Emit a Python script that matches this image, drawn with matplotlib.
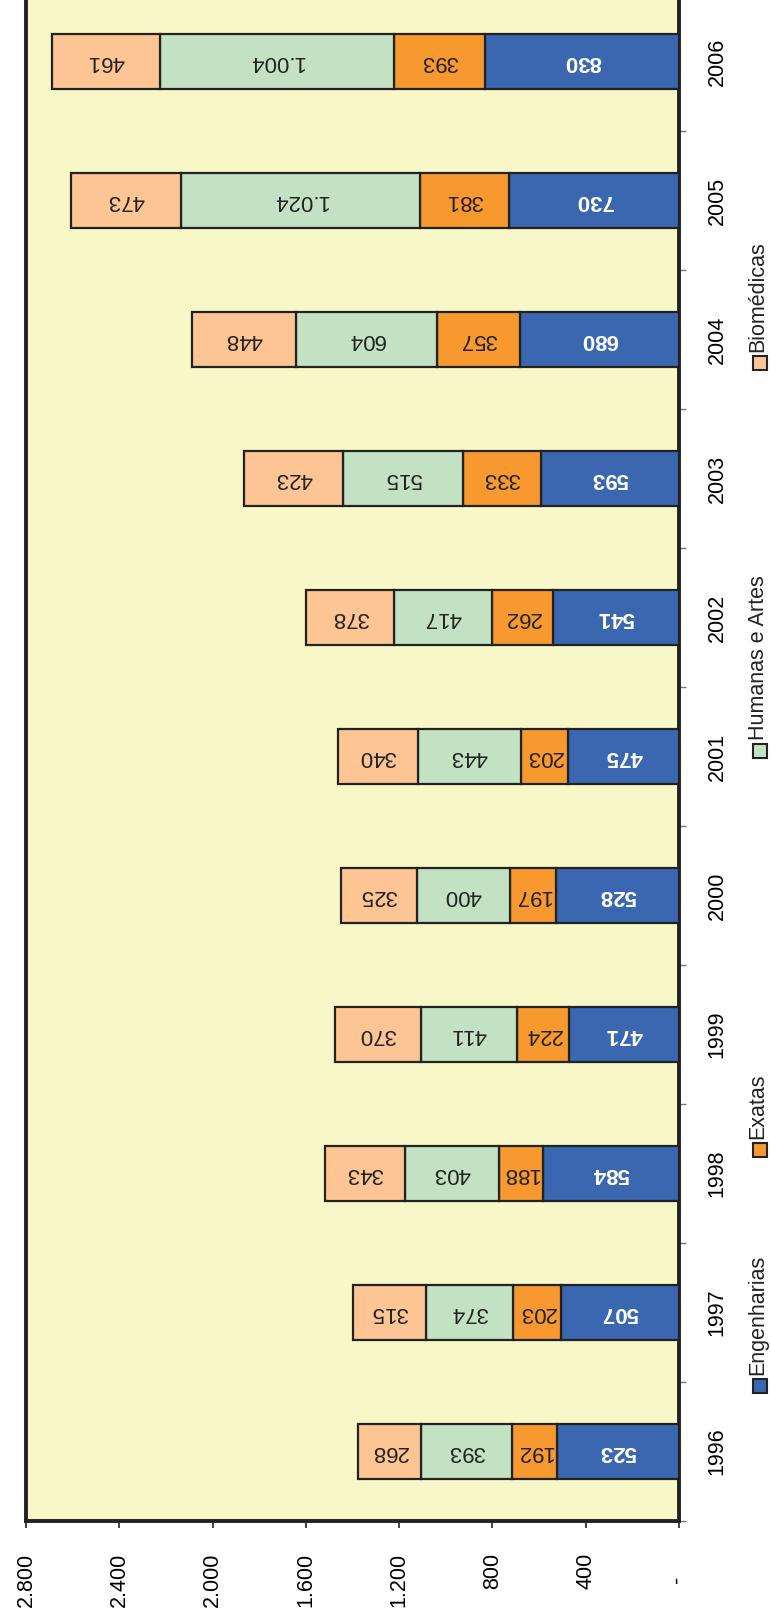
import matplotlib.pyplot as plt
from matplotlib.patches import Rectangle
import numpy as np

plt.rcParams['font.family'] = ['Liberation Sans', 'DejaVu Sans']

# Dados
anos = ['1996', '1997', '1998', '1999', '2000', '2001', '2002', '2003', '2004', '2005', '2006']
engenharias = [523, 507, 584, 471, 528, 475, 541, 593, 680, 730, 830]
exatas = [192, 203, 188, 224, 197, 203, 262, 333, 357, 381, 393]
humanas = [393, 374, 403, 411, 400, 443, 417, 515, 604, 1024, 1004]
biomedicas = [268, 315, 343, 370, 325, 340, 378, 423, 448, 473, 461]

series = ['Engenharias', 'Exatas', 'Humanas e Artes', 'Biomédicas']
cores = ['#3A67B0', '#F7992E', '#C3E2C3', '#FDC594']
cores_texto = ['white', '#222222', '#222222', '#222222']
pesos = ['bold', 'normal', 'normal', 'normal']
valores = [engenharias, exatas, humanas, biomedicas]

ticks_valor = [0, 400, 800, 1200, 1600, 2000, 2400, 2800]


def fmt(v):
    return f"{v:,}".replace(",", ".")


W, H = 770, 1613
fig = plt.figure(figsize=(W / 100, H / 100), dpi=100)
ax = fig.add_axes([26 / W, (H - 1521) / H, 653 / W, 1529 / H])
ax.set_facecolor('#F8F7C8')

y = np.arange(len(anos))
base = np.zeros(len(anos))
for nome, vals, cor, ct, pw in zip(series, valores, cores, cores_texto, pesos):
    vals = np.array(vals)
    bars = ax.barh(y, vals, left=base, height=0.4, color=cor,
                   edgecolor='#222222', linewidth=1.6, zorder=3)
    for b, v in zip(bars, vals):
        ax.text(b.get_x() + b.get_width() / 2, b.get_y() + b.get_height() / 2,
                fmt(v), rotation=180, ha='center', va='center',
                fontsize=16, color=ct, fontweight=pw, zorder=4)
    base = base + vals

ax.set_xlim(2800, 0)
ax.set_ylim(-0.5, len(anos) - 0.5)

ax.set_xticks(ticks_valor)
ax.set_xticklabels(['-    '] + [fmt(t) for t in ticks_valor[1:]], rotation=90, fontsize=15.5)
ax.tick_params(axis='x', direction='out', length=5, width=1.2, color='#222222', pad=18)

ax.yaxis.tick_right()
ax.set_yticks(y)
ax.set_yticklabels(anos, rotation=90, va='center', fontsize=15.5)
ax.set_yticks(np.arange(len(anos) + 1) - 0.5, minor=True)
ax.tick_params(axis='y', which='major', length=0, pad=20)
ax.tick_params(axis='y', which='minor', direction='out', length=5, width=1, color='#777777')

for s in ['left', 'right', 'bottom']:
    ax.spines[s].set_linewidth(2.8)
    ax.spines[s].set_color('#222222')
ax.spines['top'].set_visible(False)

# Legenda (rotacionada)
leg_y = [1393, 1157, 758, 370]
for nome, cor, yb in zip(series, cores, leg_y):
    fig.patches.append(Rectangle((753 / W, (H - yb) / H), 14 / W, 14 / H,
                                 transform=fig.transFigure, facecolor=cor,
                                 edgecolor='#222222', linewidth=1.5))
    fig.text(758 / W, (H - yb + 18) / H, nome, rotation=90, ha='center', va='bottom',
             fontsize=15.5, color='#222222')

plt.savefig('out.png', dpi=100)
